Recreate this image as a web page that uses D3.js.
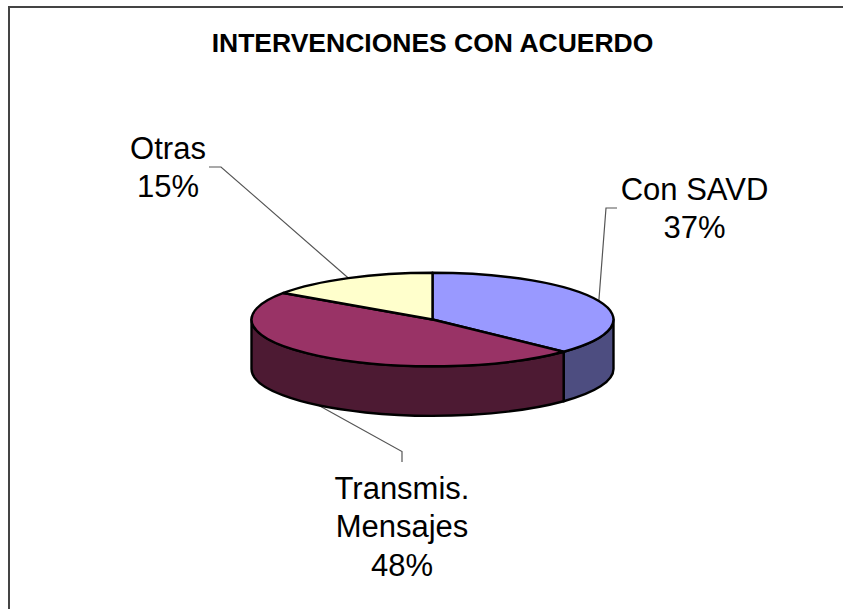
<!DOCTYPE html>
<html>
<head>
<meta charset="utf-8">
<title>Intervenciones con acuerdo</title>
<script src="https://cdn.jsdelivr.net/npm/d3@7"></script>
<style>
  html, body { margin: 0; padding: 0; background: #fff; }
  svg { display: block; }
  text { font-family: "Liberation Sans", Arial, sans-serif; fill: #000; }
</style>
</head>
<body>
<script>
var chartTitle = "INTERVENCIONES CON ACUERDO";
var categories = [["Con SAVD"], ["Transmis.", "Mensajes"], ["Otras"]];
// estimated from the slice edges, labels show them rounded
var shares = [37.1, 47.5, 15.4];
var topColors = ["#9999ff", "#993366", "#ffffcc"];
var sideColors = ["#4d4d80", "#4d1a33", "#80805e"];

var width = 843;
var height = 609;

// pie geometry
var cx = 432.5, cy = 319.5;
var rx = 181, ry = 46.8, depth = 49.5;

// where each label sits, and where its leader bends
var labelPos = [
    { x: 694.5, y: 199.5, bend: [606, 208], end: [617, 208] },
    { x: 402, y: 498.5, bend: [402, 451.5], end: [402, 462] },
    { x: 168, y: 158.5, bend: [221, 167], end: [209, 167] }
];
var lineHeight = 38.5;

var svg = d3.select("body").append("svg")
    .attr("width", width)
    .attr("height", height);

svg.append("rect").attr("width", width).attr("height", height).attr("fill", "#fff");

// frame runs off the right and bottom of the page
svg.append("path")
    .attr("d", "M9," + height + "V7H" + width)
    .attr("fill", "none")
    .attr("stroke", "#444")
    .attr("stroke-width", 2);

svg.append("text")
    .attr("x", 432.5)
    .attr("y", 51.5)
    .attr("text-anchor", "middle")
    .attr("font-size", 26.5)
    .attr("font-weight", "bold")
    .text(chartTitle);

var pie = d3.pie().sort(null);
var slices = pie(shares);

function rimX(a) { return cx + rx * Math.sin(a); }
function rimY(a) { return cy - ry * Math.cos(a); }

// leaders go under the pie
var leaderLine = d3.line();
slices.forEach(function(d, i) {
    var mid = (d.startAngle + d.endAngle) / 2;
    var front = Math.cos(mid) < 0;
    var start = [rimX(mid), rimY(mid) + (front ? depth : 0)];
    svg.append("path")
        .attr("d", leaderLine([start, labelPos[i].bend, labelPos[i].end]))
        .attr("fill", "none")
        .attr("stroke", "#555")
        .attr("stroke-width", 1.2);
});

// side wall, only the part between 90 and 270 degrees faces us
var g = svg.append("g");
slices.forEach(function(d, i) {
    var a0 = Math.max(d.startAngle, Math.PI / 2);
    var a1 = Math.min(d.endAngle, Math.PI * 1.5);
    if (a1 <= a0) return;
    var wall = "M" + rimX(a0) + "," + rimY(a0)
        + "A" + rx + "," + ry + " 0 0 1 " + rimX(a1) + "," + rimY(a1)
        + "V" + (rimY(a1) + depth)
        + "A" + rx + "," + ry + " 0 0 0 " + rimX(a0) + "," + (rimY(a0) + depth)
        + "Z";
    g.append("path")
        .attr("d", wall)
        .attr("fill", sideColors[i])
        .attr("stroke", "#000")
        .attr("stroke-width", 2.4)
        .attr("stroke-linejoin", "round");
});

// top face, a flattened d3 pie
var arc = d3.arc().innerRadius(0).outerRadius(rx);
var topFace = svg.append("g")
    .attr("transform", "translate(" + cx + "," + cy + ") scale(1," + (ry / rx) + ")");

topFace.selectAll("path")
    .data(slices)
    .enter()
    .append("path")
    .attr("d", arc)
    .attr("fill", function(d, i) { return topColors[i]; })
    .attr("stroke", "#000")
    .attr("stroke-width", 2.4)
    .attr("stroke-linejoin", "round")
    .attr("vector-effect", "non-scaling-stroke");

// labels
categories.forEach(function(lines, i) {
    var rows = lines.concat([Math.round(shares[i]) + "%"]);
    rows.forEach(function(row, j) {
        svg.append("text")
            .attr("x", labelPos[i].x)
            .attr("y", labelPos[i].y + j * lineHeight)
            .attr("text-anchor", "middle")
            .attr("font-size", 31)
            .text(row);
    });
});
</script>
</body>
</html>
